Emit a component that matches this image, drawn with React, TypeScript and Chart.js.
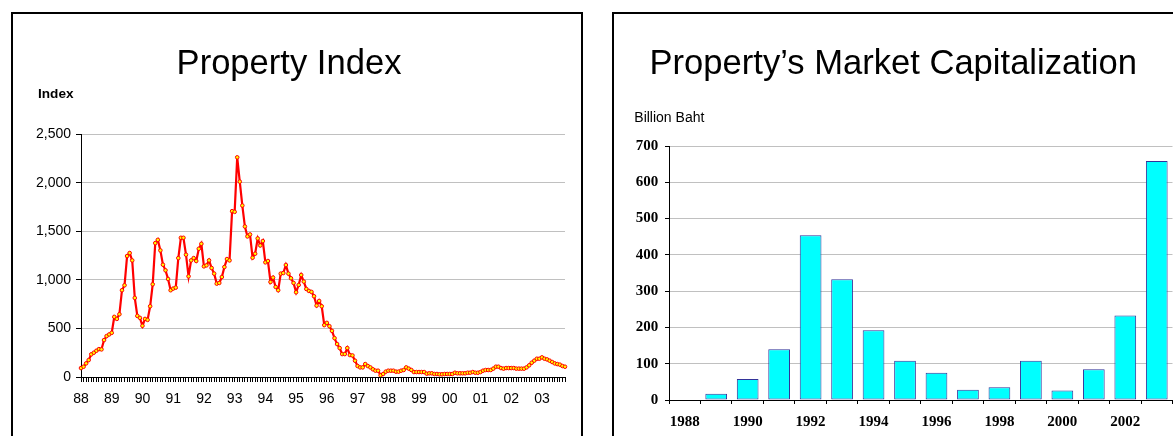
import React, { useEffect, useRef } from 'react';
import { Chart, registerables } from 'chart.js';

Chart.register(...registerables);

// ---------- Data: Property Index (monthly, Jan 1988 – Oct 2003) ----------
const indexYearLabels = ['88', '89', '90', '91', '92', '93', '94', '95', '96', '97', '98', '99', '00', '01', '02', '03'];
const monthNames = ['Jan', 'Feb', 'Mar', 'Apr', 'May', 'Jun', 'Jul', 'Aug', 'Sep', 'Oct', 'Nov', 'Dec'];
const propertyIndex = [
  92, 106, 140, 174, 233, 250, 270, 287, 284, 380, 421, 438,
  455, 619, 598, 646, 893, 944, 1245, 1276, 1200, 814, 629, 609,
  527, 598, 588, 728, 954, 1378, 1412, 1303, 1156, 1098, 1009, 893,
  910, 920, 1224, 1433, 1433, 1259, 1036, 1200, 1224, 1194, 1320, 1371,
  1139, 1149, 1200, 1122, 1064, 961, 968, 1029, 1132, 1214, 1200, 1707,
  1700, 2261, 2011, 1765, 1549, 1447, 1467, 1228, 1269, 1426, 1354, 1399,
  1180, 1194, 978, 1023, 927, 893, 1064, 1070, 1153, 1064, 1016, 968,
  872, 947, 1050, 982, 906, 886, 876, 831, 735, 783, 728, 534,
  557, 523, 475, 400, 339, 298, 236, 236, 298, 226, 222, 168,
  113, 99, 99, 133, 113, 99, 79, 65, 65, 17, 31, 55,
  65, 65, 65, 55, 55, 65, 72, 99, 86, 72, 51, 51,
  51, 51, 51, 34, 38, 38, 31, 31, 28, 28, 31, 31,
  31, 31, 44, 38, 38, 38, 38, 44, 44, 51, 44, 44,
  51, 65, 72, 72, 72, 86, 106, 106, 92, 86, 92, 92,
  92, 92, 86, 86, 86, 86, 99, 120, 147, 168, 188, 188,
  202, 188, 181, 168, 154, 140, 133, 127, 113, 106,
];
const indexCategories = propertyIndex.map(
  (_, i) => `${monthNames[i % 12]}-${indexYearLabels[Math.floor(i / 12)]}`
);

// ---------- Data: Property's Market Capitalization (Billion Baht) ----------
const capYears = ['1988', '1989', '1990', '1991', '1992', '1993', '1994', '1995', '1996', '1997', '1998', '1999', '2000', '2001', '2002', '2003'];
const capValues = [0, 17, 58, 140, 454, 333, 192, 108, 75, 28, 35, 108, 26, 85, 233, 659];

const SANS = "'Liberation Sans', Arial, Helvetica, sans-serif";
const SERIF = "'Liberation Serif', 'Times New Roman', Times, serif";

function unitLabelPlugin(text: string, font: string, dx: number, dy: number) {
  return {
    id: 'unitLabel',
    afterDraw(chart: any) {
      const { ctx, chartArea } = chart;
      ctx.save();
      ctx.font = font;
      ctx.fillStyle = '#000';
      ctx.textAlign = 'left';
      ctx.textBaseline = 'alphabetic';
      ctx.fillText(text, chartArea.left + dx, chartArea.top + dy);
      ctx.restore();
    },
  };
}

function indexConfig(): any {
  return {
    type: 'line',
    data: {
      labels: indexCategories,
      datasets: [
        {
          data: propertyIndex,
          borderColor: '#ff0000',
          borderWidth: 2.2,
          pointRadius: 1.8,
          pointBackgroundColor: '#ffff00',
          pointBorderColor: '#ff0000',
          pointBorderWidth: 1,
          tension: 0,
        },
      ],
    },
    options: {
      responsive: false,
      animation: false,
      layout: { padding: { left: 0, right: 16, top: 0, bottom: 0 } },
      plugins: {
        legend: { display: false },
        tooltip: { enabled: false },
        title: {
          display: true,
          text: 'Property Index',
          color: '#000',
          font: { family: SANS, size: 34.6, weight: 'normal', lineHeight: 1.2 },
          padding: { top: 30, bottom: 48.6 },
        },
      },
      scales: {
        x: {
          grid: { display: true, drawOnChartArea: false, tickLength: 5, tickColor: '#000' },
          border: { color: '#000', width: 1 },
          ticks: {
            autoSkip: false,
            maxRotation: 0,
            minRotation: 0,
            padding: 9,
            color: '#000',
            font: { family: SANS, size: 14 },
            callback: (_v: any, i: number) => (i % 12 === 0 ? indexYearLabels[i / 12] : ''),
          },
          afterFit: (s: any) => {
            s.height = 59;
          },
        },
        y: {
          min: 0,
          max: 2500,
          grid: { color: '#c0c0c0', lineWidth: 1, tickLength: 5, tickColor: '#000' },
          border: { color: '#000', width: 1 },
          ticks: {
            stepSize: 500,
            padding: 5,
            color: '#000',
            font: { family: SANS, size: 14 },
            callback: (v: any) => Number(v).toLocaleString('en-US'),
          },
          afterFit: (s: any) => {
            s.width = 68;
          },
        },
      },
    },
    plugins: [unitLabelPlugin('Index', `bold 13.6px ${SANS}`, -43, -36)],
  };
}

function capConfig(): any {
  return {
    type: 'bar',
    data: {
      labels: capYears,
      datasets: [
        {
          data: capValues,
          backgroundColor: '#00ffff',
          borderColor: '#333399',
          borderWidth: 1,
          borderSkipped: false,
          barPercentage: 0.69,
          categoryPercentage: 1,
        },
      ],
    },
    options: {
      responsive: false,
      animation: false,
      layout: { padding: { left: 0, right: 15.5, top: 0, bottom: 0 } },
      plugins: {
        legend: { display: false },
        tooltip: { enabled: false },
        title: {
          display: true,
          text: 'Property\u2019s Market Capitalization',
          color: '#000',
          font: { family: SANS, size: 34.6, weight: 'normal', lineHeight: 1.2 },
          padding: { top: 30, bottom: 60.5 },
        },
      },
      scales: {
        x: {
          grid: { display: true, drawOnChartArea: false, offset: true, tickLength: 4, tickColor: '#000' },
          border: { color: '#000', width: 1 },
          ticks: {
            autoSkip: false,
            maxRotation: 0,
            minRotation: 0,
            padding: 8.8,
            color: '#000',
            font: { family: SERIF, size: 15, weight: 'bold' },
            callback: (_v: any, i: number) => (i % 2 === 0 ? capYears[i] : ''),
          },
          afterFit: (s: any) => {
            s.height = 36;
          },
        },
        y: {
          min: 0,
          max: 700,
          grid: { color: '#c0c0c0', lineWidth: 1, tickLength: 4, tickColor: '#000' },
          border: { color: '#000', width: 1 },
          ticks: {
            stepSize: 100,
            padding: 6.7,
            color: '#000',
            font: { family: SERIF, size: 15, weight: 'bold' },
          },
          afterFit: (s: any) => {
            s.width = 55;
          },
        },
      },
    },
    plugins: [unitLabelPlugin('Billion Baht', `14px ${SANS}`, -34.7, -23.7)],
  };
}

function ChartCanvas({ makeConfig, width, height }: { makeConfig: () => any; width: number; height: number }) {
  const ref = useRef<HTMLCanvasElement | null>(null);
  useEffect(() => {
    if (!ref.current) return;
    const chart = new Chart(ref.current, makeConfig());
    return () => chart.destroy();
  }, [makeConfig]);
  return <canvas ref={ref} width={width} height={height} style={{ display: 'block', width, height }} />;
}

export default function App() {
  return (
    <div
      style={{
        position: 'fixed',
        left: 0,
        top: 0,
        width: 1173,
        height: 436,
        overflow: 'hidden',
        background: '#fff',
      }}
    >
      <div
        style={{
          position: 'absolute',
          left: 11,
          top: 12,
          width: 572,
          height: 470,
          border: '2px solid #000',
          boxSizing: 'border-box',
          background: '#fff',
        }}
      >
        <ChartCanvas makeConfig={indexConfig} width={568} height={422} />
      </div>
      <div
        style={{
          position: 'absolute',
          left: 612,
          top: 12,
          width: 600,
          height: 470,
          border: '2px solid #000',
          boxSizing: 'border-box',
          background: '#fff',
        }}
      >
        <ChartCanvas makeConfig={capConfig} width={574} height={422} />
      </div>
    </div>
  );
}
